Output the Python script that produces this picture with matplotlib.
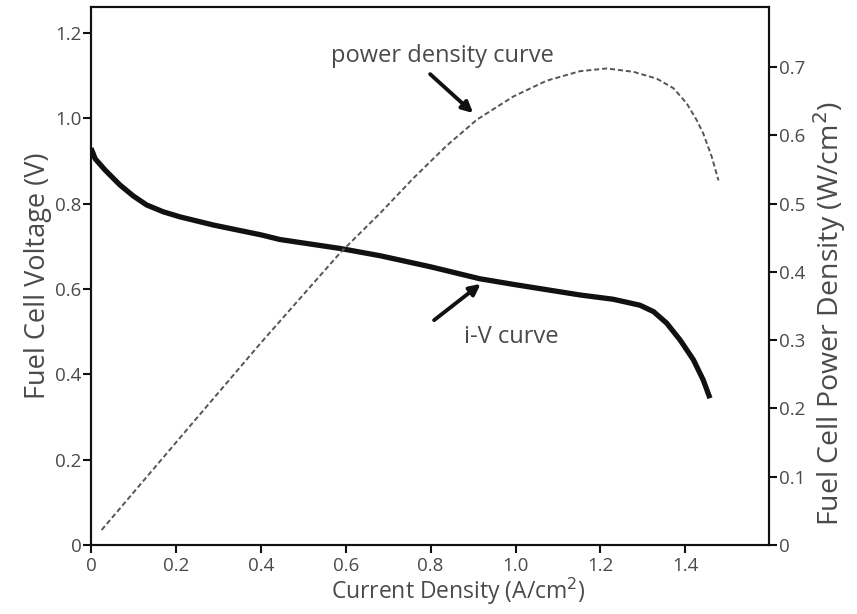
import matplotlib
matplotlib.use("Agg")
import matplotlib.pyplot as plt

# i-V curve data (current density A/cm2, voltage V)
iv_current = [0.0, 0.01, 0.033, 0.068, 0.0997, 0.131, 0.170, 0.21, 0.288, 0.4, 0.445, 0.587,
              0.681, 0.8, 0.916, 1.0, 1.152, 1.23, 1.293, 1.325, 1.356, 1.388, 1.419, 1.442, 1.458]
iv_voltage = [0.930, 0.905, 0.879, 0.844, 0.818, 0.797, 0.781, 0.769, 0.750, 0.727, 0.716, 0.695,
              0.678, 0.652, 0.624, 0.610, 0.586, 0.576, 0.562, 0.547, 0.520, 0.480, 0.434, 0.387, 0.344]

# power density curve data (current density A/cm2, power W/cm2)
pd_current = [0.025, 0.2, 0.4, 0.587, 0.681, 0.759, 0.838, 0.909, 0.995, 1.073, 1.152, 1.215,
              1.278, 1.333, 1.372, 1.403, 1.427, 1.442, 1.462, 1.478]
pd_power = [0.022, 0.150, 0.296, 0.428, 0.486, 0.537, 0.585, 0.623, 0.657, 0.680, 0.694, 0.698,
            0.693, 0.683, 0.669, 0.647, 0.622, 0.603, 0.569, 0.534]

x_ticks = [0, 0.2, 0.4, 0.6, 0.8, 1.0, 1.2, 1.4]
x_tick_labels = ["0", "0.2", "0.4", "0.6", "0.8", "1.0", "1.2", "1.4"]
v_ticks = [0, 0.2, 0.4, 0.6, 0.8, 1.0, 1.2]
v_tick_labels = ["0", "0.2", "0.4", "0.6", "0.8", "1.0", "1.2"]
p_ticks = [0, 0.1, 0.2, 0.3, 0.4, 0.5, 0.6, 0.7]
p_tick_labels = ["0", "0.1", "0.2", "0.3", "0.4", "0.5", "0.6", "0.7"]

plt.rcParams['font.family'] = ['Open Sans', 'DejaVu Sans']
txt_color = '#4a4a4a'

fig = plt.figure(figsize=(8.57, 6.14), dpi=100)
ax = fig.add_axes([0.1062, 0.1124, 0.7911, 0.8762])
ax2 = ax.twinx()

ax.plot(iv_current, iv_voltage, color='#111111', lw=3.8, solid_capstyle='butt',
        solid_joinstyle='round', zorder=3)
ax2.plot(pd_current, pd_power, color='#555555', lw=1.4, linestyle=(0, (2.6, 1.5)), zorder=2)

ax.set_xlim(0, 1.597)
ax.set_ylim(0, 1.261)
ax2.set_ylim(0, 0.788)

ax.set_xticks(x_ticks)
ax.set_xticklabels(x_tick_labels)
ax.set_yticks(v_ticks)
ax.set_yticklabels(v_tick_labels)
ax2.set_yticks(p_ticks)
ax2.set_yticklabels(p_tick_labels)

for a in (ax, ax2):
    for s in a.spines.values():
        s.set_linewidth(1.5)
        s.set_color('#111111')
    a.tick_params(direction='out', length=6, width=1.5, color='#111111',
                  labelsize=13.5, labelcolor=txt_color, pad=1)
ax.tick_params(axis='x', pad=3)

ax.set_xlabel("Current Density (A/cm$^2$)", fontsize=16.5, color=txt_color, labelpad=0, x=0.541)
ax.set_ylabel("Fuel Cell Voltage (V)", fontsize=19.5, color=txt_color, labelpad=2)
ax2.set_ylabel("Fuel Cell Power Density (W/cm$^2$)", fontsize=20.5, color=txt_color,
               labelpad=4, y=0.43)

ax.annotate("", xy=(0.905, 1.008), xytext=(0.794, 1.108),
            arrowprops=dict(arrowstyle='-|>', color='#111111', lw=2.8, mutation_scale=16))
ax.text(0.827, 1.145, "power density curve", fontsize=17, color=txt_color,
        ha='center', va='center')
ax.annotate("", xy=(0.923, 0.616), xytext=(0.803, 0.523),
            arrowprops=dict(arrowstyle='-|>', color='#111111', lw=2.8, mutation_scale=16))
ax.text(0.99, 0.488, "i-V curve", fontsize=17, color=txt_color,
        ha='center', va='center')

fig.savefig("out.png", dpi=100)
